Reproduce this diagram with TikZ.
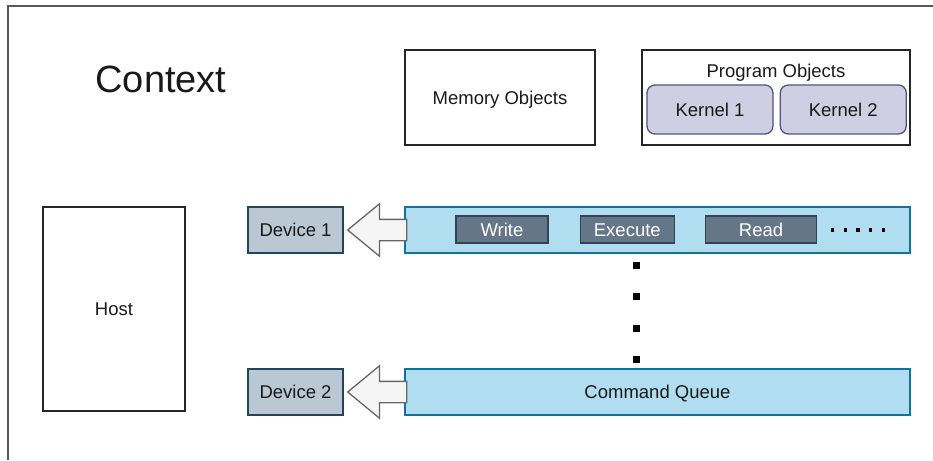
\documentclass[tikz,border=0pt]{standalone}
\usepackage{fontspec}
\setmainfont{Liberation Sans}
\usepackage{tikz}
\usetikzlibrary{positioning, shapes.arrows}
\definecolor{kernelfill}{HTML}{D0CEE2}
\definecolor{kerneldraw}{HTML}{56517E}
\definecolor{devfill}{HTML}{BAC8D3}
\definecolor{devdraw}{HTML}{23445D}
\definecolor{queuefill}{HTML}{B1DDF0}
\definecolor{queuedraw}{HTML}{10739E}
\definecolor{cmdfill}{HTML}{647687}
\definecolor{cmddraw}{HTML}{314354}
\tikzset{
    every node/.style={font=\fontsize{18.5}{22}\selectfont, text=black!90},
    frame/.style={draw=black!65, line width=2pt},
    boxed text/.style={text height=13.5pt, text depth=0pt},
    plain box/.style 2 args={
        boxed text,
        draw=black!85,
        line width=1.3pt,
        minimum width=#1,
        minimum height=#2,
    },
    kernel box/.style={
        boxed text,
        draw=kerneldraw,
        fill=kernelfill,
        line width=1.3pt,
        rounded corners=8pt,
        minimum width=126pt,
        minimum height=49pt,
    },
    device box/.style={
        boxed text,
        draw=devdraw,
        fill=devfill,
        line width=1.3pt,
        minimum width=95pt,
        minimum height=46pt,
    },
    queue box/.style={
        boxed text,
        draw=queuedraw,
        fill=queuefill,
        line width=1.3pt,
        minimum width=505pt,
        minimum height=46pt,
    },
    cmd box/.style={
        boxed text,
        draw=cmddraw,
        fill=cmdfill,
        line width=1.3pt,
        minimum width=#1,
        minimum height=27pt,
        inner sep=0pt,
        text=white,
    },
    fat arrow/.style={
        single arrow,
        shape border rotate=180,
        draw=black!60,
        fill=black!4,
        line width=1.3pt,
        minimum height=59pt,
        inner xsep=0pt,
        inner ysep=10pt,
        single arrow head extend=15.5pt,
        single arrow tip angle=79,
    },
    annotation/.style={
        boxed text,
        inner sep=0pt,
    },
}
\begin{document}
\begin{tikzpicture}[x=1pt, y=-1pt, node distance=30pt]
    \useasboundingbox (0,0) rectangle (933,460);
    \draw [frame] (8,460) -- (8,6) -- (933,6);
    \node [inner sep=0pt, font=\fontsize{38}{44}\selectfont] (ctx) at (161,79) {Context};
    % top row: memory and program objects
    \node [plain box={190pt}{95pt}] (mem) at (500,97.5) {Memory Objects};
    \node [plain box={268pt}{95pt}] (prog) at (776,97.5) {};
    \node [annotation] (progtitle) at ([yshift=-21pt]prog.north) {Program Objects};
    \node [kernel box] (k1) at (710,109.5) {Kernel 1};
    \node [kernel box, right=6pt of k1] (k2) {Kernel 2};
    \node [plain box={142pt}{204pt}] (host) at (114,309) {Host};
    % devices and their queues
    \node [device box] (d1) at (295.5,230) {Device 1};
    \node [device box] (d2) at (295.5,392) {Device 2};
    \node [queue box] (q1) at (657.5,230) {};
    \node [queue box] (q2) at (657.5,392) {Command Queue};
    \node [fat arrow, anchor=tip] (a1) at ([xshift=3pt]d1.east) {};
    \node [fat arrow, anchor=tip] (a2) at ([xshift=3pt]d2.east) {};
    \node [cmd box=92pt] (write) at (502,229.5) {Write};
    \node [cmd box=94pt, right=31pt of write] (exec) {Execute};
    \node [cmd box=111pt, right=of exec] (read) {Read};
    % more commands in the first queue
    \foreach \x in {832.5,845.25,858,870.75,883.5}
        \fill (\x,230) +(-1.7,-1.7) rectangle +(1.7,1.7);
    % dots between the two queues
    \foreach \y in {265,296.5,328,359}
        \fill (636.5,\y) +(-3.5,-3.5) rectangle +(3.5,3.5);
\end{tikzpicture}
\end{document}
